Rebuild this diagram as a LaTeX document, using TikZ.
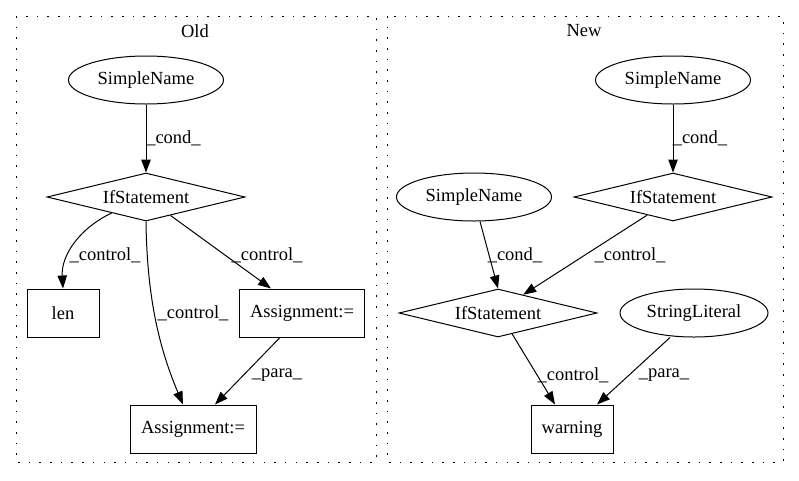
\documentclass[tikz,border=0pt]{standalone}
\usepackage{fontspec}
\setmainfont{Liberation Serif}
\usetikzlibrary{shapes.geometric,arrows.meta}
\begin{document}
\begin{tikzpicture}[x=1pt,y=-1pt,
  every node/.style={font=\fontsize{18.5}{22}\selectfont},
  cluster/.style={draw, line width=1pt, dash pattern=on 1.6pt off 9.07pt},
  ell/.style={draw, ellipse, line width=1pt, minimum width=155pt, minimum height=48pt, inner sep=0pt},
  dia/.style={draw, diamond, aspect=4.1, line width=1pt, minimum width=198pt, minimum height=48pt, inner sep=0pt},
  box/.style={draw, rectangle, line width=1pt, minimum height=48pt, inner sep=0pt},
  edge/.style={line width=1pt, -{Triangle[length=13pt,width=9.5pt]}},
  lbl/.style={inner sep=0pt}]
\useasboundingbox (0,0) rectangle (799,480);
% clusters
\draw[cluster] (16,16) rectangle (376,462);
\draw[cluster] (387,16) rectangle (783,462);
\node[lbl] (tOld) at (195,31) {Old};
\node[lbl] (tNew) at (584,31) {New};
% Old nodes
\node[ell] (osn) at (146,80) {SimpleName};
\node[dia] (oif) at (146,197) {IfStatement};
\node[box, minimum width=72pt] (olen) at (63,313) {len};
\node[box, minimum width=125pt] (oasr) at (302,313) {Assignment:=};
\node[box, minimum width=126pt] (oasb) at (193,429) {Assignment:=};
% Old edges
\draw[edge] (osn) -- (oif);
\node[lbl] (l1) at (173.5,138) {\_cond\_};
\draw[edge] (oif.205) .. controls (80,228) and (61,255) .. (olen.north);
\node[lbl] (l2) at (105,255) {\_control\_};
\draw[edge] (oif.south) .. controls (147,300) and (160,350) .. (oasb.north -| 183,0);
\node[lbl] (l3) at (193,313) {\_control\_};
\draw[edge] (oif.-37) -- (oasr.north -| 271,0);
\node[lbl] (l4) at (267,255) {\_control\_};
\draw[edge] (oasr.south -| 280,0) -- (oasb.north -| 215,0);
\node[lbl] (l5) at (277,375) {\_para\_};
% New nodes
\node[ell] (nsn1) at (673,80) {SimpleName};
\node[dia] (nif1) at (673,197) {IfStatement};
\node[ell] (nsn2) at (474,197) {SimpleName};
\node[dia] (nif2) at (498,313) {IfStatement};
\node[ell, minimum width=148pt] (nsl) at (694,313) {StringLiteral};
\node[box, minimum width=82pt] (nw) at (572,429) {warning};
% New edges
\draw[edge] (nsn1) -- (nif1);
\node[lbl] (l6) at (700,138) {\_cond\_};
\draw[edge] (nsn2.south -| 480,0) -- (nif2.north);
\node[lbl] (l7) at (515,255) {\_cond\_};
\draw[edge] (nif1.215) -- (nif2.36);
\node[lbl] (l8) at (630,255) {\_control\_};
\draw[edge] (nif2.-56) -- (nw.north -| 555,0);
\node[lbl] (l9) at (573,375) {\_control\_};
\draw[edge] (nsl.south -| 670,0) -- (nw.north -| 597,0);
\node[lbl] (l10) at (664,375) {\_para\_};
\end{tikzpicture}
\end{document}
